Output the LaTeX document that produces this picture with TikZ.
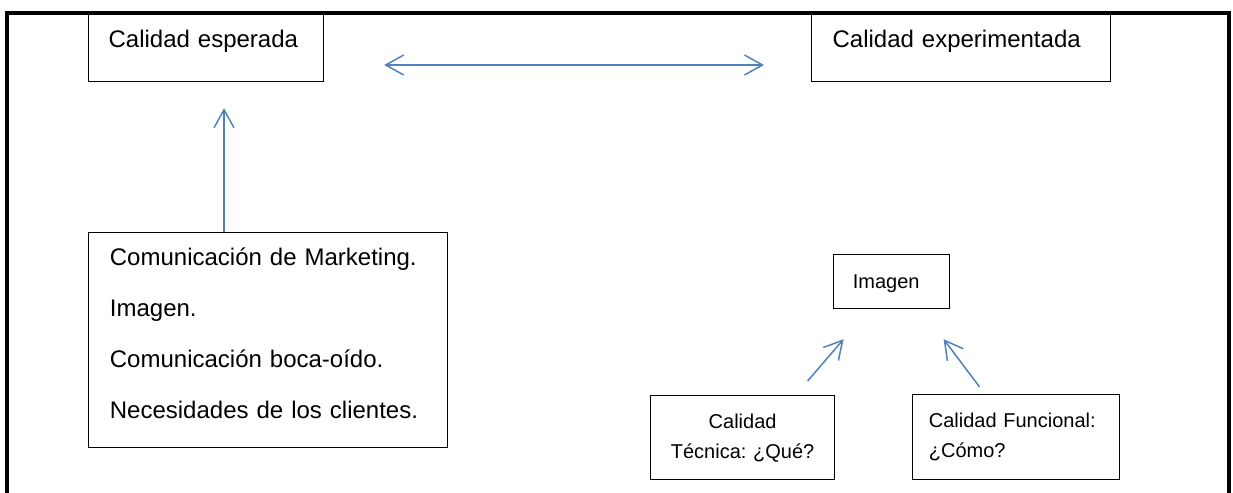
\documentclass[tikz,border=0pt]{standalone}
\usepackage{fontspec}
\setmainfont{Liberation Sans}
\usetikzlibrary{arrows.meta}
\definecolor{linkblue}{RGB}{79,129,189}
\frenchspacing

\begin{document}
\begin{tikzpicture}[x=0.5pt,y=-0.5pt,
    >={Straight Barb[length=9pt,width=10pt]},
    box/.style={draw,line width=0.6pt,anchor=north west,inner ysep=7.5pt,text height=9pt},
    link/.style={linkblue,line width=0.75pt}]
  \useasboundingbox (0,0) rectangle (1233,493);

  % Frame
  \draw[line width=2.2pt] (7,493) -- (7,13) -- (1229,13) -- (1229,493);

  % Top boxes
  \node[box,font=\fontsize{12}{14}\selectfont,align=left,inner xsep=10pt,text width=97.5pt,text depth=9.5pt] (esp) at (88,14) {Calidad esperada};
  \node[box,font=\fontsize{12}{14}\selectfont,align=left,inner xsep=10.5pt,text width=128.5pt,text depth=9.5pt] (exp) at (811,14) {Calidad experimentada};

  % Factors
  \node[box,font=\fontsize{12}{25.55}\selectfont,align=left,inner xsep=10.65pt,text width=158.2pt,text height=8.85pt,text depth=83.65pt] (fact) at (88,232)
    {Comunicación de Marketing.\\Imagen.\\Comunicación boca-oído.\\Necesidades de los clientes.};

  % Image and its two parts
  \node[box,font=\fontsize{10}{15}\selectfont,align=left,inner xsep=9.6pt,text width=38.8pt,inner ysep=9pt,text height=8pt,text depth=1pt] (img) at (833,254) {Imagen};
  \node[box,font=\fontsize{10}{15}\selectfont,align=center,inner xsep=8pt,text width=76pt,text depth=18pt] (tec) at (650,395) {Calidad\\Técnica: ¿Qué?};
  \node[box,font=\fontsize{10}{15}\selectfont,align=left,inner xsep=8.15pt,text width=87.2pt,text depth=18.5pt] (fun) at (912,394) {Calidad Funcional:\\¿Cómo?};

  % Arrows
  \coordinate (midrow) at (0,65);
  \coordinate (upcol) at (224,0);
  \draw[link,<->,shorten <=30pt,shorten >=23.5pt] (esp.east |- midrow) -- (exp.west |- midrow);
  \draw[link,->,shorten >=13pt] (fact.north -| upcol) -- (esp.south -| upcol);
  \draw[link,->] ([shift={(65,-14)}]tec.north) -- ([shift={(-48,30)}]img.south);
  \draw[link,->] ([shift={(-36.5,-7)}]fun.north) -- ([shift={(52,30)}]img.south);
\end{tikzpicture}
\end{document}
